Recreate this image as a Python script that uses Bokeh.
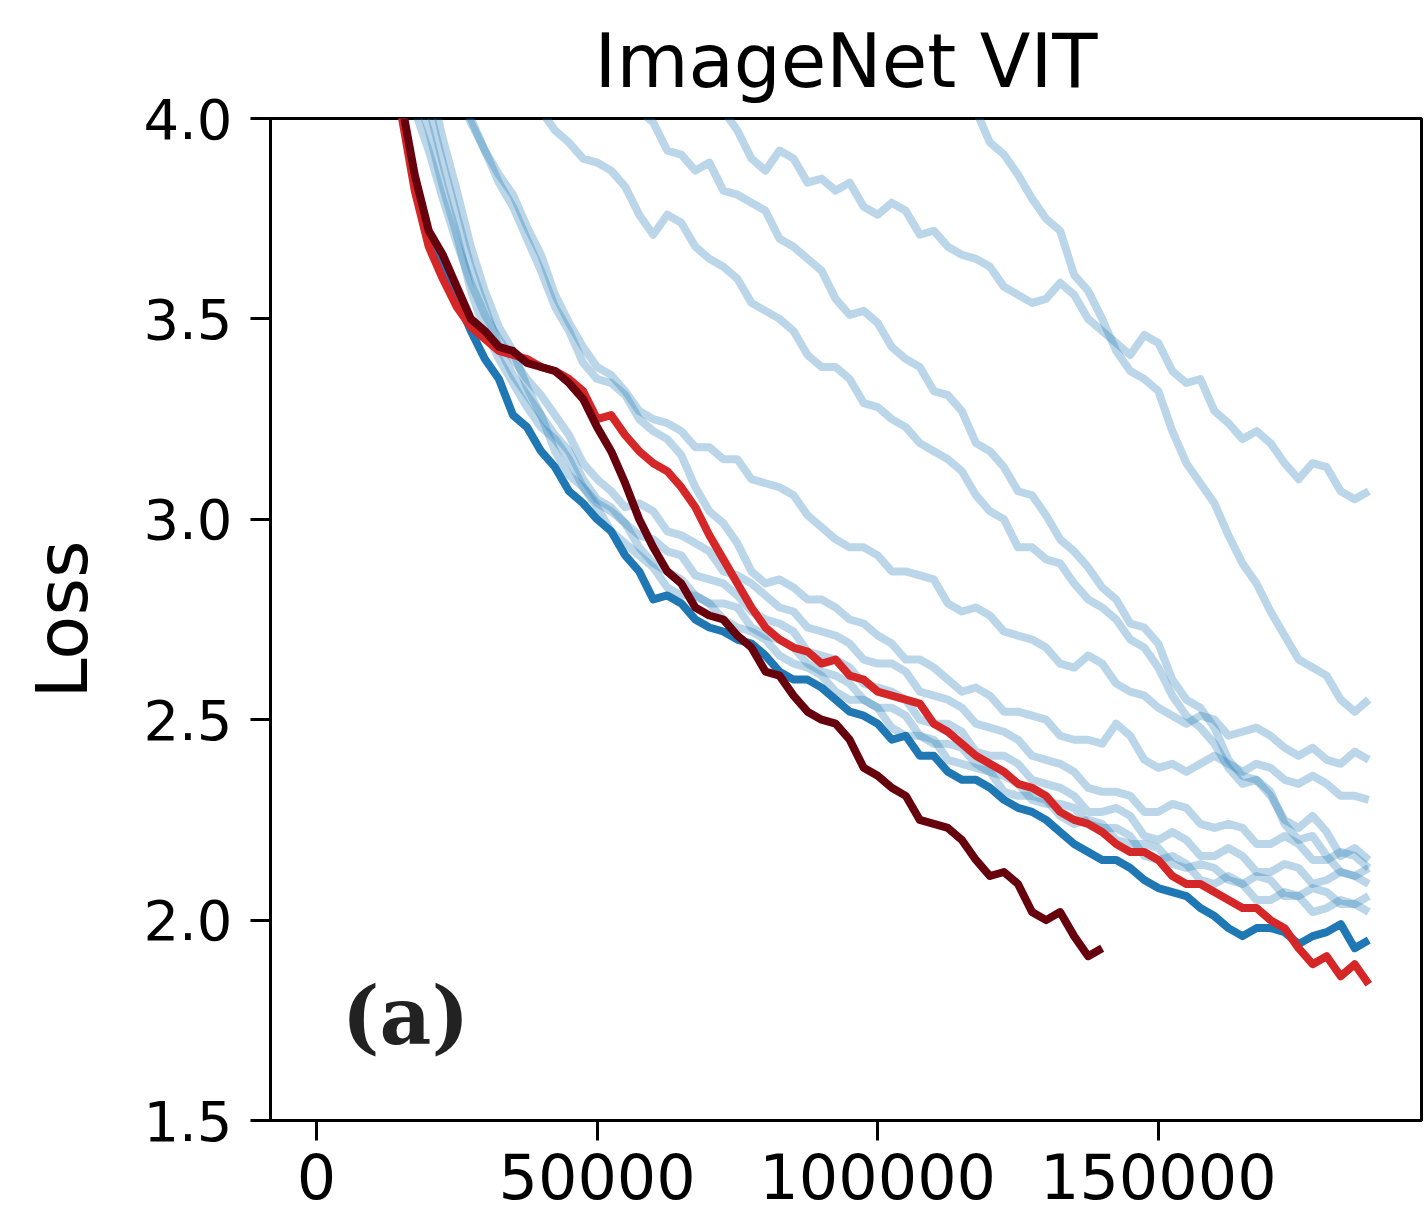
from bokeh.plotting import figure
from bokeh.models import Range1d, FixedTicker, NumeralTickFormatter, Label
from bokeh.embed import file_html
from bokeh.resources import INLINE

# training steps (logged every 2500 steps, up to 187500)
GRID = [s * 2500 for s in range(76)]

X_TICKS = [0, 50000, 100000, 150000]
Y_TICKS = [1.5, 2.0, 2.5, 3.0, 3.5, 4.0]

# light-blue runs: (first logged step, loss values)
run_a = (115000, [4.13, 4.02, 3.94, 3.91, 3.86, 3.80, 3.75, 3.72, 3.61, 3.57, 3.50, 3.42, 3.37, 3.35, 3.32, 3.22,
                  3.14, 3.09, 3.04, 2.96, 2.89, 2.84, 2.77, 2.71, 2.65, 2.63, 2.61, 2.55, 2.52, 2.55])
run_b = (70000, [4.09, 4.02, 3.97, 3.90, 3.87, 3.92, 3.90, 3.84, 3.85, 3.82, 3.84, 3.78, 3.76, 3.79, 3.77, 3.71,
                 3.72, 3.68, 3.66, 3.65, 3.63, 3.58, 3.56, 3.54, 3.55, 3.59, 3.56, 3.50, 3.47, 3.44, 3.41, 3.46,
                 3.44, 3.37, 3.34, 3.35, 3.27, 3.24, 3.20, 3.22, 3.19, 3.14, 3.10, 3.14, 3.13, 3.07, 3.05, 3.07])
run_c = (55000, [4.08, 4.02, 3.99, 3.92, 3.91, 3.87, 3.89, 3.82, 3.81, 3.79, 3.77, 3.70, 3.68, 3.65, 3.62, 3.55,
                 3.51, 3.52, 3.49, 3.43, 3.40, 3.38, 3.32, 3.31, 3.27, 3.19, 3.17, 3.13, 3.07, 3.06, 3.01, 2.95,
                 2.92, 2.88, 2.83, 2.80, 2.74, 2.73, 2.69, 2.60, 2.55, 2.53, 2.48, 2.40, 2.36, 2.35, 2.31, 2.25,
                 2.23, 2.26, 2.22, 2.16, 2.18, 2.15])
run_d = (40000, [4.02, 3.97, 3.94, 3.90, 3.89, 3.87, 3.83, 3.76, 3.71, 3.76, 3.74, 3.68, 3.65, 3.63, 3.60, 3.54,
                 3.52, 3.50, 3.47, 3.41, 3.38, 3.38, 3.35, 3.29, 3.28, 3.25, 3.23, 3.19, 3.17, 3.15, 3.12, 3.06,
                 3.02, 3.00, 2.93, 2.93, 2.90, 2.89, 2.84, 2.80, 2.78, 2.75, 2.70, 2.68, 2.63, 2.56, 2.51, 2.48,
                 2.44, 2.38, 2.34, 2.35, 2.32, 2.24, 2.20, 2.21, 2.16, 2.12, 2.11, 2.13])
run_e = (25000, [4.07, 3.99, 3.92, 3.86, 3.81, 3.73, 3.66, 3.56, 3.49, 3.43, 3.38, 3.36, 3.32, 3.27, 3.25, 3.24,
                 3.22, 3.18, 3.18, 3.15, 3.15, 3.10, 3.09, 3.08, 3.06, 3.01, 2.98, 2.95, 2.93, 2.93, 2.91, 2.87,
                 2.87, 2.86, 2.85, 2.79, 2.77, 2.78, 2.76, 2.72, 2.71, 2.70, 2.68, 2.64, 2.63, 2.66, 2.64, 2.59,
                 2.57, 2.56, 2.53, 2.51, 2.49, 2.51, 2.50, 2.46, 2.47, 2.48, 2.46, 2.43, 2.41, 2.43, 2.40, 2.39,
                 2.42, 2.40])
run_f = (25000, [4.09, 4.00, 3.92, 3.84, 3.78, 3.70, 3.62, 3.53, 3.47, 3.39, 3.35, 3.34, 3.31, 3.25, 3.22, 3.20,
                 3.16, 3.08, 3.02, 2.99, 2.94, 2.87, 2.84, 2.85, 2.83, 2.80, 2.80, 2.78, 2.75, 2.74, 2.71, 2.69,
                 2.65, 2.65, 2.63, 2.60, 2.57, 2.58, 2.56, 2.52, 2.52, 2.51, 2.50, 2.46, 2.45, 2.45, 2.44, 2.49,
                 2.46, 2.40, 2.38, 2.39, 2.37, 2.39, 2.41, 2.39, 2.37, 2.39, 2.38, 2.35, 2.34, 2.36, 2.34, 2.31,
                 2.31, 2.30])
run_g = (15000, [4.15, 4.02, 3.92, 3.80, 3.69, 3.59, 3.51, 3.45, 3.40, 3.35, 3.31, 3.26, 3.21, 3.14, 3.10, 3.07,
                 3.03, 3.04, 3.02, 2.97, 2.96, 2.94, 2.92, 2.87, 2.86, 2.84, 2.81, 2.78, 2.77, 2.73, 2.72, 2.71,
                 2.69, 2.65, 2.64, 2.64, 2.62, 2.57, 2.56, 2.55, 2.53, 2.49, 2.48, 2.47, 2.45, 2.41, 2.40, 2.39,
                 2.37, 2.33, 2.32, 2.32, 2.31, 2.27, 2.27, 2.29, 2.28, 2.24, 2.23, 2.24, 2.23, 2.19, 2.19, 2.21,
                 2.19, 2.15, 2.15, 2.17, 2.16, 2.13])
run_h = (15000, [4.20, 4.08, 3.97, 3.83, 3.71, 3.57, 3.47, 3.40, 3.34, 3.28, 3.23, 3.20, 3.15, 3.08, 3.04, 3.02,
                 2.99, 2.96, 2.95, 2.92, 2.91, 2.86, 2.85, 2.84, 2.81, 2.77, 2.75, 2.74, 2.72, 2.67, 2.66, 2.65,
                 2.63, 2.59, 2.58, 2.57, 2.55, 2.50, 2.49, 2.49, 2.47, 2.42, 2.41, 2.41, 2.39, 2.35, 2.34, 2.33,
                 2.31, 2.27, 2.27, 2.28, 2.26, 2.21, 2.20, 2.22, 2.20, 2.16, 2.16, 2.18, 2.16, 2.12, 2.12, 2.14,
                 2.13, 2.09, 2.10, 2.12, 2.11, 2.09])
run_i = (20000, [4.03, 3.89, 3.76, 3.63, 3.53, 3.43, 3.36, 3.31, 3.26, 3.17, 3.11, 3.08, 3.03, 2.97, 2.94, 2.91,
                 2.88, 2.83, 2.81, 2.81, 2.79, 2.75, 2.73, 2.72, 2.70, 2.66, 2.64, 2.63, 2.61, 2.57, 2.55, 2.55,
                 2.53, 2.48, 2.46, 2.46, 2.45, 2.40, 2.39, 2.38, 2.37, 2.32, 2.31, 2.31, 2.30, 2.26, 2.24, 2.25,
                 2.24, 2.20, 2.19, 2.19, 2.18, 2.14, 2.13, 2.14, 2.13, 2.10, 2.09, 2.11, 2.10, 2.06, 2.06, 2.08,
                 2.07, 2.04, 2.04, 2.06])
run_j = (20000, [4.10, 3.95, 3.82, 3.68, 3.57, 3.48, 3.42, 3.33, 3.26, 3.21, 3.17, 3.10, 3.05, 3.03, 2.99, 2.93,
                 2.89, 2.87, 2.85, 2.81, 2.79, 2.79, 2.78, 2.73, 2.71, 2.70, 2.68, 2.64, 2.62, 2.61, 2.59, 2.55,
                 2.53, 2.53, 2.51, 2.46, 2.44, 2.44, 2.43, 2.39, 2.37, 2.36, 2.34, 2.30, 2.29, 2.29, 2.28, 2.24,
                 2.23, 2.23, 2.21, 2.16, 2.15, 2.16, 2.14, 2.10, 2.09, 2.11, 2.09, 2.05, 2.05, 2.07, 2.06, 2.02,
                 2.03, 2.05, 2.04, 2.02])

# highlighted runs
run_blue = (15000, [4.04, 3.84, 3.70, 3.62, 3.55, 3.47, 3.40, 3.35, 3.26, 3.23, 3.17, 3.13, 3.07, 3.04, 3.00, 2.97,
                    2.91, 2.87, 2.80, 2.81, 2.79, 2.75, 2.73, 2.72, 2.70, 2.69, 2.66, 2.62, 2.60, 2.60, 2.58, 2.55,
                    2.52, 2.51, 2.49, 2.45, 2.46, 2.41, 2.41, 2.37, 2.35, 2.35, 2.33, 2.30, 2.28, 2.27, 2.25, 2.22,
                    2.19, 2.17, 2.15, 2.15, 2.13, 2.10, 2.08, 2.07, 2.06, 2.03, 2.01, 1.98, 1.96, 1.98, 1.98, 1.97,
                    1.94, 1.96, 1.97, 1.99, 1.93, 1.95])
run_red = (15000, [4.02, 3.82, 3.68, 3.60, 3.53, 3.48, 3.45, 3.42, 3.41, 3.40, 3.38, 3.37, 3.35, 3.32, 3.25, 3.26,
                   3.21, 3.17, 3.14, 3.12, 3.08, 3.03, 2.96, 2.90, 2.84, 2.78, 2.73, 2.70, 2.68, 2.67, 2.64, 2.65,
                   2.61, 2.60, 2.57, 2.56, 2.55, 2.54, 2.49, 2.47, 2.44, 2.41, 2.39, 2.37, 2.34, 2.33, 2.31, 2.27,
                   2.25, 2.24, 2.22, 2.19, 2.17, 2.17, 2.15, 2.11, 2.09, 2.09, 2.07, 2.05, 2.03, 2.03, 2.00, 1.98,
                   1.93, 1.89, 1.91, 1.86, 1.89, 1.84])
run_darkred = (15000, [4.05, 3.86, 3.72, 3.66, 3.58, 3.50, 3.47, 3.43, 3.42, 3.39, 3.38, 3.37, 3.34, 3.30, 3.23,
                       3.17, 3.09, 3.00, 2.93, 2.87, 2.84, 2.78, 2.76, 2.75, 2.71, 2.68, 2.62, 2.61, 2.56, 2.52,
                       2.50, 2.49, 2.45, 2.38, 2.36, 2.33, 2.31, 2.25, 2.24, 2.23, 2.20, 2.15, 2.11, 2.12, 2.09,
                       2.02, 2.00, 2.02, 1.96, 1.91, 1.93])

LIGHT_RUNS = [run_a, run_b, run_c, run_d, run_e, run_f, run_g, run_h, run_i, run_j]


def xy(run):
    start, vals = run
    i0 = GRID.index(start)
    xs = GRID[i0:i0 + len(vals)]
    return xs, vals[:len(xs)]


p = figure(width=1424, height=1226, output_backend="svg", toolbar_location=None,
           x_range=Range1d(-8200, 196900), y_range=Range1d(1.5, 4.0),
           min_border_left=270, min_border_right=3, min_border_top=117, min_border_bottom=106,
           background_fill_color="white", border_fill_color="white")

p.title.text = "ImageNet VIT"
p.title.align = "center"
p.title.text_font = "DejaVu Sans"
p.title.text_font_size = "74px"
p.title.text_font_style = "normal"
p.title.text_color = "black"
p.title.standoff = 30

p.outline_line_color = "black"
p.outline_line_width = 3
p.outline_line_alpha = 1.0
p.xgrid.visible = False
p.ygrid.visible = False

for ax in (p.xaxis[0], p.yaxis[0]):
    ax.axis_line_width = 3
    ax.axis_line_color = "black"
    ax.major_tick_line_width = 3
    ax.major_tick_line_color = "black"
    ax.major_tick_out = 20
    ax.major_tick_in = 0
    ax.minor_tick_out = 0
    ax.minor_tick_in = 0
    ax.major_label_text_font = "DejaVu Sans"
    ax.major_label_text_color = "black"

p.xaxis.ticker = FixedTicker(ticks=X_TICKS)
p.xaxis.formatter = NumeralTickFormatter(format="0")
p.xaxis.major_label_text_font_size = "62px"
p.xaxis.major_label_standoff = 12

p.yaxis.ticker = FixedTicker(ticks=Y_TICKS)
p.yaxis.formatter = NumeralTickFormatter(format="0.0")
p.yaxis.major_label_text_font_size = "56px"
p.yaxis.major_label_standoff = 18
p.yaxis.axis_label = "Loss"
p.yaxis.axis_label_text_font = "DejaVu Sans"
p.yaxis.axis_label_text_font_size = "72px"
p.yaxis.axis_label_text_font_style = "normal"
p.yaxis.axis_label_text_color = "black"
p.yaxis.axis_label_standoff = 36

for run in LIGHT_RUNS:
    xs, ys = xy(run)
    p.line(xs, ys, line_color="#1f77b4", line_alpha=0.3, line_width=8, line_join="round")

xs, ys = xy(run_blue)
p.line(xs, ys, line_color="#1f77b4", line_width=8, line_join="round")
xs, ys = xy(run_red)
p.line(xs, ys, line_color="#d62728", line_width=8, line_join="round")
xs, ys = xy(run_darkred)
p.line(xs, ys, line_color="#67000d", line_width=8, line_join="round")

p.add_layout(Label(x=4500, y=1.76, text="(a)", text_font="DejaVu Serif", text_font_style="bold",
                   text_font_size="80px", text_baseline="middle", text_align="left", text_color="#222222"))

open("out.html", "w").write(file_html(p, INLINE))
